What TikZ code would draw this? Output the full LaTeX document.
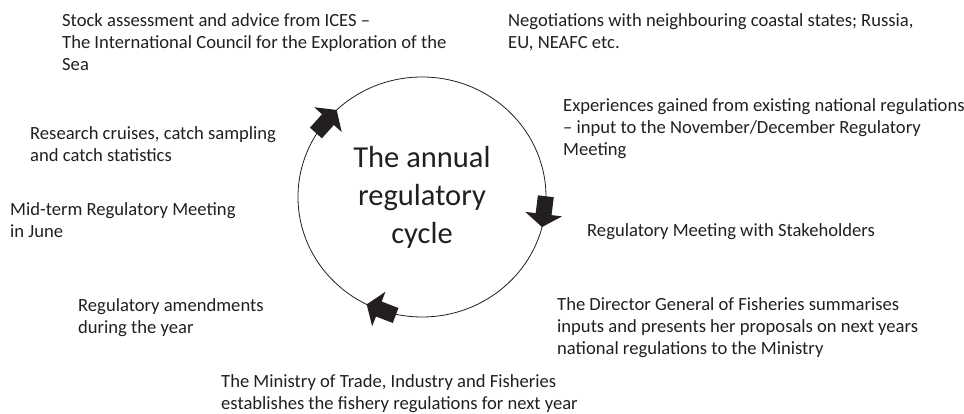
\documentclass[tikz,border=0pt]{standalone}
\usepackage{fontspec}
\setmainfont{Carlito}
\usepackage{tikz}
\usetikzlibrary{shapes.geometric}
\definecolor{ringgray}{RGB}{35,31,32}

\tikzset{
  note/.style={anchor=base west,align=left,inner sep=0pt,text=ringgray,
    font=\fontsize{18.6}{22}\selectfont},
  cyclearrow/.pic={\fill[ringgray] (0,0) -- (-13,18.5) -- (-13,8) -- (-31,8)
    -- (-31,-8) -- (-13,-8) -- (-13,-18.5) -- cycle;}
}

\begin{document}
\begin{tikzpicture}[x=1pt,y=1pt]
\useasboundingbox (0,0) rectangle (964,414);
\node[draw=ringgray,line width=0.8pt,ellipse,minimum width=248,minimum height=240,inner sep=0pt,
  align=center,text=ringgray,font=\fontsize{30.5}{38}\selectfont] (annual) at (422,217)
  {The annual\\regulatory\\cycle};
\pic[rotate=48] at ([shift={(133.5:124 and 120)}]annual.center) {cyclearrow};
\pic[rotate=-97] at ([shift={(-14.5:124 and 120)}]annual.center) {cyclearrow};
\pic[rotate=159] at ([shift={(243.5:124 and 120)}]annual.center) {cyclearrow};
% base anchor sits on the last line
\node[note] (ices) at (62,343) {Stock assessment and advice from ICES --\\The International Council for the Exploration of the\\Sea};
\node[note] (negot) at (508,365) {Negotiations with neighbouring coastal states; Russia,\\EU, NEAFC etc.};
\node[note] (exper) at (563,258) {Experiences gained from existing national regulations\\-- input to the November/December Regulatory\\Meeting};
\node[note] (cruise) at (30,252) {Research cruises, catch sampling\\and catch statistics};
\node[note] (midterm) at (10,176) {Mid-term Regulatory Meeting\\in June};
\node[note] (stake) at (587,177) {Regulatory Meeting with Stakeholders};
\node[note] (amend) at (78,80) {Regulatory amendments\\during the year};
\node[note] (director) at (557,59) {The Director General of Fisheries summarises\\inputs and presents her proposals on next years\\national regulations to the Ministry};
\node[note] (ministry) at (221,4) {The Ministry of Trade, Industry and Fisheries\\establishes the fishery regulations for next year};
\end{tikzpicture}
\end{document}
